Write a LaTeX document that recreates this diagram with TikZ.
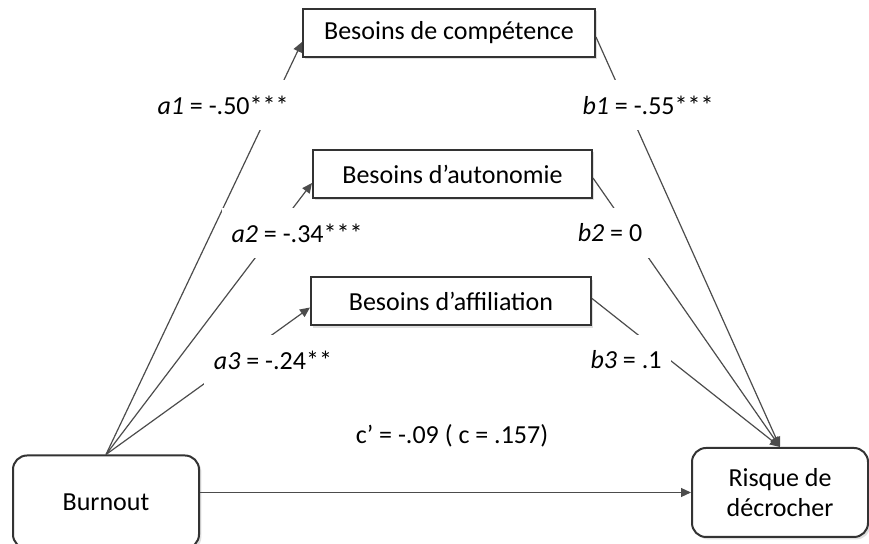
\documentclass[tikz,border=0pt]{standalone}
\usepackage{fontspec}
\setmainfont{Carlito}
\usetikzlibrary{arrows.meta,shadows}

\begin{document}
\begin{tikzpicture}[x=0.5pt,y=-0.5pt,font=\fontsize{13}{15}\selectfont,
    >={Triangle[length=5pt,width=4.5pt]},
    box/.style={draw=black!80,line width=1pt,fill=white,inner sep=0pt,minimum height=24pt,
      drop shadow={shadow xshift=1.2pt,shadow yshift=-1.2pt,opacity=0.25}},
    rbox/.style={box,rounded corners=7pt,align=center},
    link/.style={draw=black!70,line width=0.6pt},
    coef/.style={fill=white,inner xsep=5pt,inner ysep=8pt}]
  \useasboundingbox (0,0) rectangle (869,544);

  % mediators
  \node[box,minimum width=146pt] (comp) at (449,33) {Besoins de compétence};
  \node[box,minimum width=139.5pt] (auto) at (452.5,174) {Besoins d’autonomie};
  \node[box,minimum width=140pt] (affi) at (451,301.5) {Besoins d’affiliation};

  % predictor and outcome
  \node[rbox,minimum width=93pt,minimum height=46.5pt] (burn) at (106,502) {Burnout};
  \node[rbox,minimum width=88pt,minimum height=44.5pt] (risk) at (780,492.5) {Risque de\\décrocher};

  % a paths
  \draw[link,->] (burn.north) -- ([yshift=-4.5pt]comp.west);
  \draw[link,->] (burn.north) -- ([yshift=-4.5pt]auto.west);
  \draw[link,->] (burn.north) -- ([yshift=-3pt]affi.west);

  % b paths
  \draw[link,->] ([yshift=-2pt]comp.east) -- (risk.north);
  \draw[link,->] ([yshift=-2pt]auto.east) -- (risk.north);
  \draw[link,->] ([yshift=1.5pt]affi.east) -- (risk.north);

  % direct path
  \draw[link,->] (burn.east |- risk.west) -- (risk.west);

  \node[coef] (la1) at (223,105) {\textit{a1} = -.50***};
  \node[coef] (la2) at (297,233) {\textit{a2} = -.34***};
  \node[coef] (la3) at (273,360) {\textit{a3} = -.24**};
  \node[coef] (lb1) at (648,105) {\textit{b1} = -.55***};
  \node[coef] (lb2) at (610,233) {\textit{b2} = 0};
  \node[coef] (lb3) at (626,360) {\textit{b3} = .1};
  \node (lc) at (452,436) {c’ = -.09 ( c = .157)};
\end{tikzpicture}
\end{document}
